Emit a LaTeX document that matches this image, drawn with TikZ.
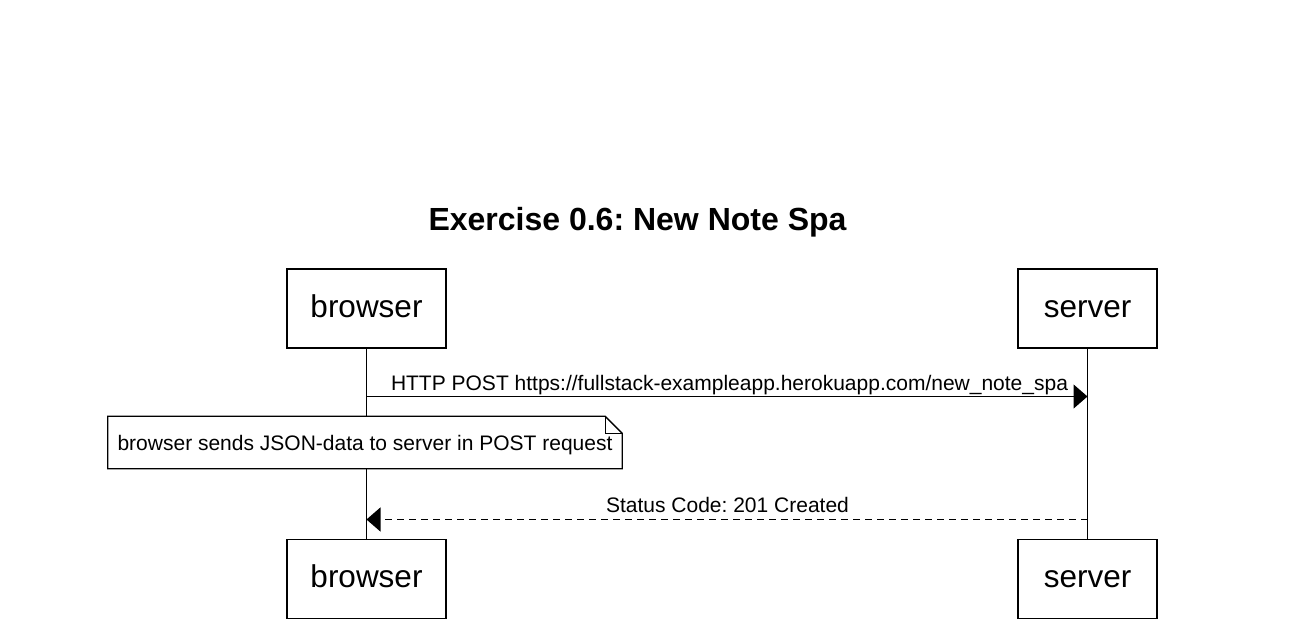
\documentclass[tikz,border=0pt]{standalone}
\usepackage{fontspec}
\setmainfont{Liberation Sans}
\usetikzlibrary{arrows.meta}
\frenchspacing
\tikzset{
  actor/.style={draw, line width=1.3pt, fill=white, minimum height=79pt, inner sep=0pt,
    font=\fontsize{31.5pt}{36pt}\selectfont, text height=23pt, text depth=6pt},
  lifeline/.style={line width=1.3pt},
  msg/.style={line width=1.3pt, -{Triangle[length=14pt,width=24pt]}},
  reply/.style={msg, dash pattern=on 7pt off 5pt},
  msglabel/.style={font=\fontsize{21pt}{25pt}\selectfont, anchor=base, inner sep=0pt},
  notebox/.style={fill=white, minimum width=514pt, minimum height=52pt, inner sep=0pt,
    font=\fontsize{21pt}{25pt}\selectfont, text height=15pt, text depth=0pt},
}
\begin{document}
\frenchspacing
\begin{tikzpicture}[x=1pt,y=-1pt]
\useasboundingbox (0,0) rectangle (1290,632);
\fill[white] (0,0) rectangle (1290,632);
% title
\node[font=\fontsize{32pt}{38pt}\selectfont\bfseries, anchor=base, inner sep=0pt] (title) at (637.5,230) {Exercise 0.6: New Note Spa};
% actors
\node[actor, minimum width=159pt] (bt) at (366.5,308.5) {browser};
\node[actor, minimum width=139pt] (st) at (1087.5,308.5) {server};
\node[actor, minimum width=159pt] (bb) at (366.5,579) {browser};
\node[actor, minimum width=139pt] (sb) at (1087.5,579) {server};
% lifelines
\draw[lifeline] (bt.south) -- (bb.north);
\draw[lifeline] (st.south) -- (sb.north);
% message coordinates
\coordinate (m1a) at (bt.south |- 0,396.5);
\coordinate (m1b) at (st.south |- 0,396.5);
\coordinate (m2a) at (st.south |- 0,519.5);
\coordinate (m2b) at (bt.south |- 0,519.5);
\draw[msg] (m1a) -- (m1b);
\node[msglabel] (l1) at (729.5,390) {HTTP POST https://fullstack-exampleapp.herokuapp.com/new\_note\_spa};
% note
\node[notebox] (note) at (365,442.5) {browser sends JSON-data to server in POST request};
\draw[line width=1.3pt] (note.south west) -- (note.north west) -- ([xshift=-17pt]note.north east)
  -- ([yshift=-17pt]note.north east) -- (note.south east) -- cycle;
\draw[line width=1pt] ([xshift=-17pt]note.north east) -- ([xshift=-17pt,yshift=-17pt]note.north east)
  -- ([yshift=-17pt]note.north east);
% reply
\draw[reply] (m2a) -- (m2b);
\node[msglabel] (l2) at (727.5,512) {Status Code: 201 Created};
\end{tikzpicture}
\end{document}
